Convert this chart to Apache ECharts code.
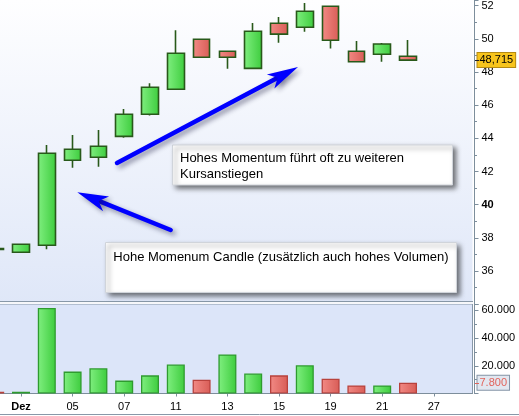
<!DOCTYPE html>
<html><head><meta charset="utf-8">
<script src="https://cdn.jsdelivr.net/npm/echarts@6/dist/echarts.min.js"></script>
<style>html,body{margin:0;padding:0;background:#fff}#c{width:519px;height:416px}</style>
</head><body><div id="c"></div>
<script>
// ---- data ----
const categories = ['30','Dez','04','05','06','07','10','11','12','13','14','15','18','19','20','21','24','27','28'];
const openP  = [37.36, 37.13, 37.55, 42.68, 42.86, 44.12, 45.45, 46.96, 49.97, 49.25, 48.22, 50.94, 50.70, 51.96, 49.25, 49.07, 48.95];
const closeP = [37.30, 37.61, 43.10, 43.34, 43.52, 45.45, 47.08, 49.13, 48.89, 48.89, 50.46, 50.28, 51.66, 49.91, 48.62, 49.69, 48.715];
const lowP   = [37.28, 37.13, 37.31, 42.23, 42.29, 44.04, 45.37, 46.96, 48.89, 48.20, 48.22, 49.77, 50.43, 49.41, 48.62, 48.62, 48.715];
const highP  = [37.38, 37.61, 43.60, 44.20, 44.50, 45.77, 47.32, 50.52, 49.97, 49.25, 50.96, 51.32, 52.16, 51.96, 49.87, 49.75, 49.93];
const volume   = [1200, 1200, 61800, 15800, 18200, 9300, 13100, 20900, 10000, 28200, 14400, 13100, 20400, 10700, 5800, 5800, 7800];
const volumeUp = [false, true, true, true, true, true, true, true, false, true, true, false, true, false, false, true, false];
const priceMin = 34, priceMax = 52.34, priceStep = 2;
const volMin = 0, volMax = 64600, volStep = 20000;
const note1 = 'Hohes Momentum führt oft zu weiteren\nKursanstiegen';
const note2 = 'Hohe Momenum Candle (zusätzlich auch hohes Volumen)';

// ---- helpers ----
const FONT = 'Liberation Sans';
const axisGray = '#7d8e9c';
function lin(c1, c2){ return {type:'linear',x:0,y:0,x2:1,y2:0,colorStops:[{offset:0,color:c1},{offset:1,color:c2}]}; }
const greenFill = lin('#80ef80', '#3dcc3d');
const redFill = lin('#f28a85', '#d85c56');
function deNum(v, dec){ return v.toFixed(dec).replace('.', ','); }
function deThousands(v){ return String(Math.round(v)).replace(/\B(?=(\d{3})+(?!\d))/g, '.'); }
const candleData = openP.map((o, i) => [o, closeP[i], lowP[i], highP[i]]);
const volData = volume.map((v, i) => ({
  value: v,
  itemStyle: volumeUp[i]
    ? {color: greenFill, borderColor: '#2f9b2f'}
    : {color: redFill, borderColor: '#b8423d'}
}));
const lastClose = closeP[closeP.length - 1];
const lastVol = volume[volume.length - 1];
const oddIdx = (i) => i % 2 === 1;

function arrow(x1, y1, x2, y2){
  const dx = x2 - x1, dy = y2 - y1, L = Math.hypot(dx, dy);
  const ux = dx / L, uy = dy / L, px = -uy, py = ux;
  const back = 31, notch = 23, hw = 8;
  const bx = x2 - ux * back, by = y2 - uy * back;
  const nx = x2 - ux * notch, ny = y2 - uy * notch;
  const shadow = {shadowBlur: 5, shadowOffsetX: 3, shadowOffsetY: 3, shadowColor: 'rgba(20,20,60,0.45)'};
  return [
    {type:'line', z:110, shape:{x1:x1, y1:y1, x2:nx, y2:ny}, style:Object.assign({stroke:'#0000ff', lineWidth:4.5, lineCap:'round'}, shadow)},
    {type:'polygon', z:111, shape:{points:[[x2,y2],[bx+px*hw,by+py*hw],[nx,ny],[bx-px*hw,by-py*hw]]}, style:Object.assign({fill:'#0000ff'}, shadow)}
  ];
}

const chart = echarts.init(document.getElementById('c'), null, {renderer:'canvas'});
const baseGraphic = [
    {type:'rect', z:50, shape:{x:0, y:301, width:473, height:3}, style:{fill:'#f6f7fa'}},
    {type:'line', z:51, shape:{x1:0, y1:301.5, x2:473, y2:301.5}, style:{stroke:'#8898a8', lineWidth:1}},
    {type:'line', z:51, shape:{x1:0, y1:414.5, x2:519, y2:414.5}, style:{stroke:'#8898a8', lineWidth:1}},
    {type:'rect', z:100, shape:{x:172.5, y:145, width:280, height:40},
     style:{fill:'#ffffff', stroke:'#d0d4da', lineWidth:1, shadowBlur:5, shadowOffsetX:3, shadowOffsetY:3, shadowColor:'rgba(0,0,0,0.55)'}},
    {type:'text', z:101, x:180, y:150.5, style:{text:note1, font:'13px "Liberation Sans"', fill:'#000', lineHeight:16}},
    {type:'rect', z:100, shape:{x:105.5, y:242.5, width:351, height:50},
     style:{fill:'#ffffff', stroke:'#d0d4da', lineWidth:1, shadowBlur:5, shadowOffsetX:3, shadowOffsetY:3, shadowColor:'rgba(0,0,0,0.55)'}},
    {type:'text', z:101, x:113.3, y:249.5, style:{text:note2, font:'13px "Liberation Sans"', fill:'#000', lineHeight:16}}
  ].concat(arrow(117, 163, 298, 67)).concat(arrow(170.7, 230, 77.3, 192.3));

chart.setOption({
  animation: false,
  backgroundColor: '#ffffff',
  grid: [
    {left:-17.7, top:0, width:490.2, height:304.2, show:true, borderWidth:0, outerBoundsMode:'none', containLabel:false,
     backgroundColor:{type:'linear',x:0,y:0,x2:0,y2:1,colorStops:[{offset:0,color:'#fefeff'},{offset:1,color:'#dfe7f8'}]}},
    {left:-17.7, top:304, width:490.2, height:89.5, show:true, borderWidth:1, borderColor:'#8898a8', outerBoundsMode:'none', containLabel:false,
     backgroundColor:'#dce5f9'}
  ],
  xAxis: [
    {gridIndex:0, type:'category', data:categories, boundaryGap:true, show:false},
    {gridIndex:1, type:'category', data:categories, boundaryGap:true,
     axisLine:{show:true, lineStyle:{color:axisGray}},
     axisTick:{show:true, interval:(i)=>oddIdx(i), alignWithLabel:true, length:3, lineStyle:{color:axisGray}},
     axisLabel:{interval:(i)=>oddIdx(i), margin:8, fontSize:11, fontFamily:FONT, color:'#000',
       formatter:(v)=> v === 'Dez' ? '{b|Dez}' : v,
       rich:{b:{fontWeight:'bold', fontSize:11, fontFamily:FONT, color:'#000'}}}}
  ],
  yAxis: [
    {gridIndex:0, type:'value', position:'right', offset:2, min:priceMin, max:priceMax, interval:priceStep,
     axisLine:{show:true, lineStyle:{color:axisGray}},
     axisTick:{show:true, length:4, lineStyle:{color:axisGray}},
     minorTick:{show:true, splitNumber:2, length:2.5, lineStyle:{color:axisGray}},
     splitLine:{show:false},
     axisLabel:{showMinLabel:false, showMaxLabel:false, margin:7, fontSize:11, fontFamily:FONT, color:'#000',
       formatter:(v)=> v === 40 ? '{b|40}' : String(v),
       rich:{b:{fontWeight:'bold', fontSize:11, fontFamily:FONT, color:'#000'}}}},
    {gridIndex:1, type:'value', position:'right', offset:2, min:volMin, max:volMax, interval:volStep,
     axisLine:{show:true, lineStyle:{color:axisGray}},
     axisTick:{show:true, length:4, lineStyle:{color:axisGray}},
     minorTick:{show:true, splitNumber:2, length:2.5, lineStyle:{color:axisGray}},
     splitLine:{show:false},
     axisLabel:{showMinLabel:false, showMaxLabel:false, margin:7, fontSize:11, fontFamily:FONT, color:'#000',
       formatter:(v)=> deThousands(v)}}
  ],
  series: [
    {type:'candlestick', xAxisIndex:0, yAxisIndex:0, data:candleData, barWidth:17, clip:true,
     itemStyle:{color:greenFill, color0:redFill, borderColor:'#28591a', borderColor0:'#28591a', borderWidth:1.6},
     markLine:{silent:true, symbol:'none', lineStyle:{color:'transparent', width:0},
       label:{show:true, position:'end', distance:5, formatter:()=>deNum(lastClose, 3),
         backgroundColor:'#f7c41c', borderColor:'#b48a12', borderWidth:1, padding:[2,2,1,2],
         color:'#000', fontSize:11, fontFamily:FONT},
       data:[{yAxis:lastClose}]}},
    {type:'bar', xAxisIndex:1, yAxisIndex:1, data:volData, barWidth:18, clip:true,
     itemStyle:{borderWidth:1.3},
     markLine:{silent:true, symbol:'none', lineStyle:{color:'transparent', width:0},
       label:{show:true, position:'end', distance:5, formatter:()=>deThousands(lastVol),
         backgroundColor:'#e2e7f0', borderColor:'#8494a6', borderWidth:1, padding:[2,2,1,2],
         color:'#e2645c', fontSize:11, fontFamily:FONT},
       data:[{yAxis:lastVol}]}}
  ],
  graphic: baseGraphic
});

// small marker ticks on the axes at the last price / last volume, positioned through the axes
const yPrice = chart.convertToPixel({yAxisIndex:0}, lastClose);
const yVol = chart.convertToPixel({yAxisIndex:1}, lastVol);
chart.setOption({
  graphic: baseGraphic.concat([
    {type:'line', z:120, shape:{x1:475, y1:Math.round(yPrice)+0.5, x2:479, y2:Math.round(yPrice)+0.5}, style:{stroke:'#222', lineWidth:1}},
    {type:'line', z:120, shape:{x1:475, y1:Math.round(yVol)+0.5, x2:479, y2:Math.round(yVol)+0.5}, style:{stroke:'#e2645c', lineWidth:1}}
  ])
}, {replaceMerge:['graphic']});
</script></body></html>
